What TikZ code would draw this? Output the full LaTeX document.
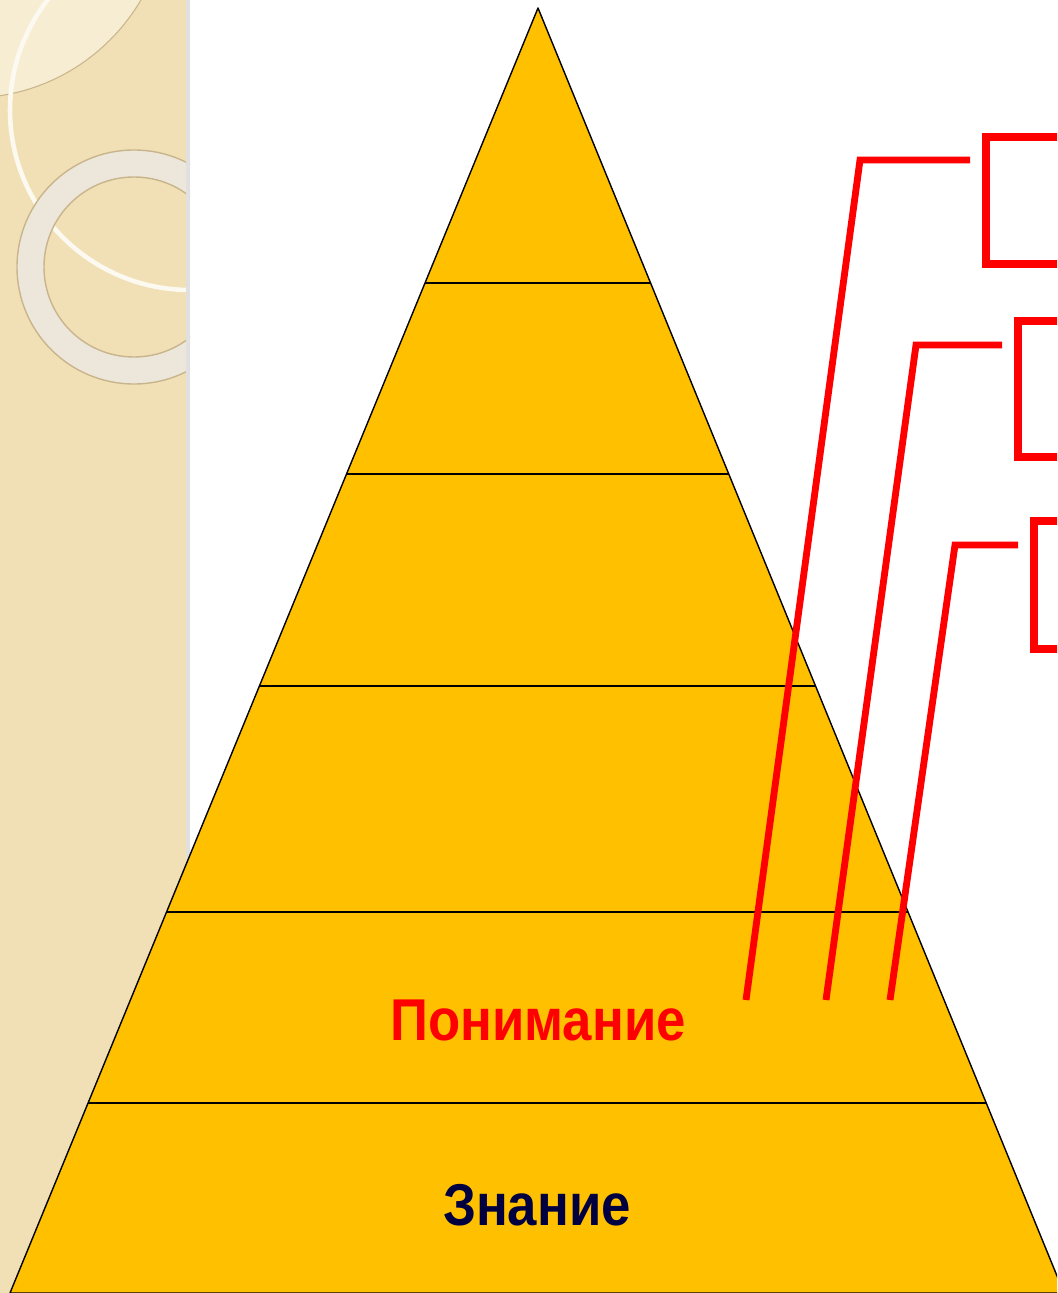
\documentclass[tikz,border=0pt]{standalone}
\usepackage{fontspec}
\setmainfont{Liberation Sans}
\usepackage{xcolor}
\usetikzlibrary{calc}
\definecolor{stripbeige}{HTML}{F1E0B6}
\definecolor{ringtan}{HTML}{C9B58C}
\definecolor{ringlight}{HTML}{ECE7DA}
\definecolor{glowlight}{HTML}{F6EDD3}
\definecolor{pyrgold}{HTML}{FFC000}
\definecolor{levelred}{HTML}{FF0000}
\definecolor{levelnavy}{HTML}{000040}

\begin{document}
\begin{tikzpicture}[
    x=0.02cm, y=-0.02cm,
    every node/.style={font=\fontsize{30}{34}\selectfont\bfseries},
    pyr/.style={fill=pyrgold, draw=black, line width=0.8pt, line join=round},
    band/.style={draw=black, line width=0.8pt},
    lead/.style={draw=levelred, line width=3.9pt, line join=miter},
    tagbox/.style={draw=levelred, line width=4.5pt}
  ]
  \useasboundingbox (0,0) rectangle (1057,1293);
  \clip (0,0) rectangle (1057,1293);

  % ---- bande decorative a gauche -------------------------------------
  \begin{scope}
    \clip (0,0) rectangle (190,1293);
    \fill[stripbeige] (0,0) rectangle (190,1293);
    \fill[glowlight, draw=ringtan, line width=0.6pt] (-30,-100) circle[radius=198];
    \draw[white!80!stripbeige, line width=2.6pt] (190,110) circle[radius=180];
    \fill[ringlight, draw=ringtan, line width=0.8pt, even odd rule]
      (134,267) circle[radius=117] (134,267) circle[radius=90];
    \fill[black!12] (186,0) rectangle (190,1293);
  \end{scope}

  % ---- pyramide --------------------------------------------------------
  \coordinate (apex) at (538,8);
  \coordinate (bl) at (10,1293);
  \coordinate (br) at (1064,1293);
  \draw[pyr] (apex) -- (bl) -- (br) -- cycle;
  \foreach \y in {283,474,686,912,1103} {
    \draw[band] ($(apex)!{(\y-8)/1285}!(bl)$) -- ($(apex)!{(\y-8)/1285}!(br)$);
  }

  \node[text=levelred, anchor=base] (underst) at (538,1040) {\scalebox{1}[1.12]{Понимание}};
  \node[text=levelnavy, anchor=base] (know) at (537,1225) {\scalebox{1}[1.12]{Знание}};

  % ---- renvois vers les cadres ------------------------------------------
  \coordinate (aFoot) at (746,1000);
  \coordinate (aKnee) at (860,160);
  \coordinate (aEnd) at (970,160);
  \coordinate (bFoot) at (826,1000);
  \coordinate (bKnee) at (916,345);
  \coordinate (bEnd) at (1002,345);
  \coordinate (cFoot) at (890,1000);
  \coordinate (cKnee) at (955,545);
  \coordinate (cEnd) at (1018,545);
  \draw[lead] (aFoot) -- (aKnee) -- (aEnd);
  \draw[lead] (bFoot) -- (bKnee) -- (bEnd);
  \draw[lead] (cFoot) -- (cKnee) -- (cEnd);

  \draw[tagbox] (1100,137) -- (986,137) -- (986,264) -- (1100,264);
  \draw[tagbox] (1100,321) -- (1018,321) -- (1018,457) -- (1100,457);
  \draw[tagbox] (1100,521) -- (1034,521) -- (1034,649) -- (1100,649);

\end{tikzpicture}
\end{document}
